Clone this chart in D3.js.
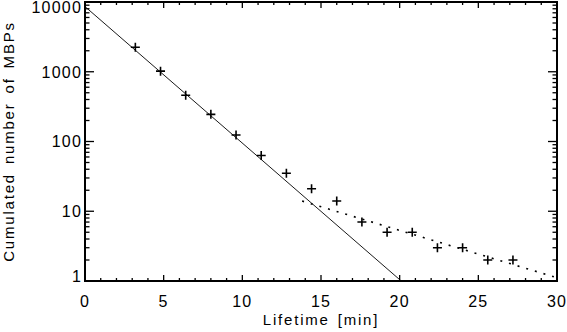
<!DOCTYPE html>
<html lang="en">
<head>
<meta charset="UTF-8">
<title>Cumulated number of MBPs</title>
<script src="https://d3js.org/d3.v7.min.js"></script>
<style>
  body { margin: 0; background: #fff; }
  text { font-family: "Liberation Sans", Arial, sans-serif; fill: #000; }
</style>
</head>
<body>
<svg id="chart" width="567" height="332"></svg>
<script>
  // measured lifetimes (min) and cumulated counts
  const lifetime = [3.2, 4.8, 6.4, 8.0, 9.6, 11.2, 12.8, 14.4, 16.0, 17.6, 19.2, 20.8, 22.4, 24.0, 25.6, 27.2];
  const counts = [2250, 1020, 460, 245, 124, 63, 35, 21, 14, 7, 5, 5, 3, 3, 2, 2];

  // fitted lines, [lifetime, count] end points
  const fitSteep = [[0, 8600], [20.1, 1]];
  const fitShallow = [[13.8, 14], [29.8, 1.15]];

  const xTicks = [0, 5, 10, 15, 20, 25, 30];
  const yTicks = [1, 10, 100, 1000, 10000];

  const width = 567, height = 332;
  const margin = { top: 2, right: 10, bottom: 51, left: 85 };

  const svg = d3.select("#chart");

  const x = d3.scaleLinear().domain([0, 30]).range([margin.left, width - margin.right]);
  const y = d3.scaleLog().domain([1, 10000]).range([height - margin.bottom, margin.top]);

  const x0 = x.range()[0], x1 = x.range()[1];
  const y0 = y.range()[0], y1 = y.range()[1];

  // minor ticks
  const xMinor = d3.range(0, 31, 1).filter(d => d % 5 !== 0);
  const yMinor = [];
  yTicks.slice(0, -1).forEach(d => { for (let k = 2; k < 10; k++) yMinor.push(d * k); });

  const ticks = svg.append("g").attr("stroke", "#000").attr("stroke-width", 1.3);

  // bottom and top x ticks (pointing inward)
  [[y0, -1], [y1, 1]].forEach(([yy, dir]) => {
    ticks.selectAll(null).data(xTicks).join("line")
      .attr("x1", d => x(d)).attr("x2", d => x(d))
      .attr("y1", yy).attr("y2", yy + dir * 6);
    ticks.selectAll(null).data(xMinor).join("line")
      .attr("x1", d => x(d)).attr("x2", d => x(d))
      .attr("y1", yy).attr("y2", yy + dir * 3);
  });

  // left and right y ticks
  [[x0, 1], [x1, -1]].forEach(([xx, dir]) => {
    ticks.selectAll(null).data(yTicks).join("line")
      .attr("y1", d => y(d)).attr("y2", d => y(d))
      .attr("x1", xx).attr("x2", xx + dir * 9);
    ticks.selectAll(null).data(yMinor).join("line")
      .attr("y1", d => y(d)).attr("y2", d => y(d))
      .attr("x1", xx).attr("x2", xx + dir * 4.5);
  });

  // frame
  svg.append("rect")
    .attr("x", x0).attr("y", y1)
    .attr("width", x1 - x0).attr("height", y0 - y1)
    .attr("fill", "none").attr("stroke", "#000").attr("stroke-width", 2);

  // tick labels
  svg.append("g").selectAll("text").data(xTicks).join("text")
    .attr("x", d => x(d)).attr("y", 307)
    .attr("text-anchor", "middle")
    .attr("font-size", 16).attr("letter-spacing", 1.2)
    .text(d => d);

  svg.append("g").selectAll("text").data(yTicks).join("text")
    .attr("x", x0 - 3)
    .attr("y", d => Math.min(Math.max(y(d), y1 + 5), y0 - 5))
    .attr("dy", "0.36em")
    .attr("text-anchor", "end")
    .attr("font-size", 16).attr("letter-spacing", 1.2)
    .text(d => d);

  // axis titles
  svg.append("text")
    .attr("x", (x0 + x1) / 2).attr("y", 325)
    .attr("text-anchor", "middle")
    .attr("font-size", 15).attr("letter-spacing", 1.8).attr("word-spacing", 2)
    .text("Lifetime [min]");

  svg.append("text")
    .attr("transform", `translate(13.5,${(y0 + y1) / 2}) rotate(-90)`)
    .attr("text-anchor", "middle")
    .attr("font-size", 15).attr("letter-spacing", 1.8).attr("word-spacing", 3)
    .text("Cumulated number of MBPs");

  // fit lines
  const line = d3.line().x(d => x(d[0])).y(d => y(d[1]));

  svg.append("path").datum(fitSteep)
    .attr("d", line)
    .attr("fill", "none").attr("stroke", "#000").attr("stroke-width", 0.9);

  svg.append("path").datum(fitShallow)
    .attr("d", line)
    .attr("fill", "none").attr("stroke", "#000").attr("stroke-width", 1.6)
    .attr("stroke-dasharray", "2,7");

  // data crosses
  svg.append("g").selectAll("path").data(lifetime).join("path")
    .attr("transform", (d, i) => `translate(${x(d)},${y(counts[i])})`)
    .attr("d", "M-4.5,0H4.5M0,-4.5V4.5")
    .attr("stroke", "#000").attr("stroke-width", 1.6);
</script>
</body>
</html>
